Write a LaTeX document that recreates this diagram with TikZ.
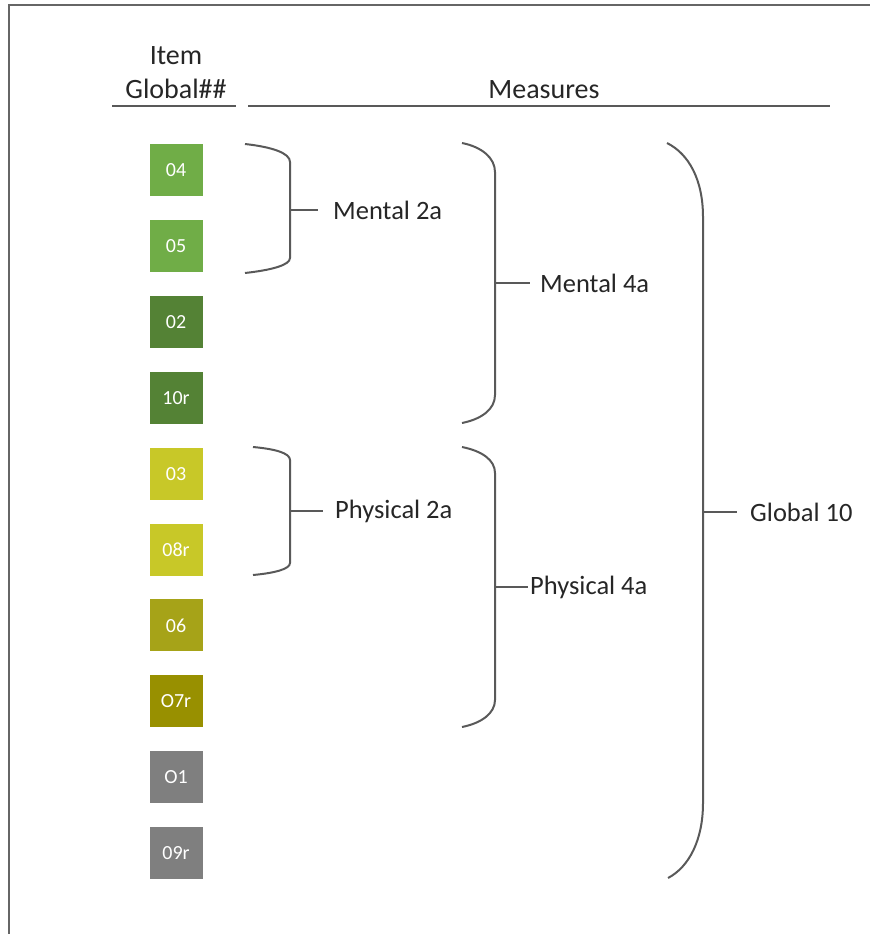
\documentclass[tikz,border=0pt]{standalone}
\usepackage{fontspec}
\setmainfont{Carlito}
\usetikzlibrary{positioning}

\definecolor{itemgreen}{HTML}{70AD47}
\definecolor{itemdkgreen}{HTML}{548235}
\definecolor{itemyellow}{HTML}{C8C828}
\definecolor{itemolive}{HTML}{A6A318}
\definecolor{itemdkolive}{HTML}{989000}
\definecolor{itemgray}{HTML}{7F7F7F}
\definecolor{bracegray}{HTML}{595959}

\begin{document}
\begin{tikzpicture}[x=1pt, y=-1pt,
        item/.style={rectangle, minimum width=53pt, minimum height=52pt, inner sep=0pt, text=white, font=\fontsize{20}{24}\selectfont},
        measure/.style={anchor=west, inner sep=0pt, text=black!85, font=\fontsize{26.5}{31}\selectfont},
        header/.style={anchor=base, inner sep=0pt, text=black!85, font=\fontsize{28}{33}\selectfont},
        bracket/.style={draw=bracegray, line width=2pt}]
        \useasboundingbox (0,0) rectangle (870,934);
        \draw [black!60, line width=2pt] (9,934) -- (9,5) -- (870,5);

        % headers
        \node (itemtop) at (176,64) [header] {Item};
        \node (itemhead) at (176,98) [header] {Global\#\#};
        \node (meashead) at (544,98) [header] {Measures};
        \draw [bracket] (112,106) -- (236,106);
        \draw [bracket] (248,106) -- (830,106);

        % items
        \foreach \lbl/\col [count=\i from 0] in {04/itemgreen, 05/itemgreen, 02/itemdkgreen, 10r/itemdkgreen, 03/itemyellow, 08r/itemyellow, 06/itemolive, O7r/itemdkolive, O1/itemgray, 09r/itemgray}
            \node (g\lbl) at (176,170+75.9*\i) [item, fill=\col] {\lbl};

        % brackets
        \draw [bracket] (245,144) .. controls (272,147) and (290,153) .. (290,162) -- (290,258) .. controls (290,265) and (272,270) .. (245,273);
        \draw [bracket] (253,447) .. controls (275,449) and (290,453) .. (290,460) -- (290,563) .. controls (290,569) and (275,573) .. (253,575);
        \draw [bracket] (462,143) .. controls (482,147) and (495,158) .. (495,172) -- (495,395) .. controls (495,409) and (482,419) .. (462,423);
        \draw [bracket] (462,447) .. controls (482,451) and (495,460) .. (495,473) -- (495,700) .. controls (495,713) and (482,723) .. (462,727);
        \draw [bracket] (667,143) .. controls (689,154) and (703,180) .. (703,217) -- (703,803) .. controls (703,840) and (689,867) .. (668,878);

        \coordinate (m2a) at (290,210);
        \coordinate (p2a) at (290,511);
        \coordinate (m4a) at (495,283);
        \coordinate (p4a) at (495,587);
        \coordinate (g10) at (703,512);

        % labels
        \node (mental2a) [measure, right=43pt of m2a] {Mental 2a};
        \node (physical2a) [measure, right=45pt of p2a] {Physical 2a};
        \node (mental4a) [measure, right=45pt of m4a] {Mental 4a};
        \node (physical4a) [measure, right=35pt of p4a] {Physical 4a};
        \node (global10) [measure, right=47pt of g10] {Global 10};

        \draw [bracket] (m2a) -- ([xshift=-15pt]mental2a.west);
        \draw [bracket] (p2a) -- ([xshift=-12pt]physical2a.west);
        \draw [bracket] (m4a) -- ([xshift=-10pt]mental4a.west);
        \draw [bracket] (p4a) -- ([xshift=-2pt]physical4a.west);
        \draw [bracket] (g10) -- ([xshift=-13pt]global10.west);
\end{tikzpicture}
\end{document}
